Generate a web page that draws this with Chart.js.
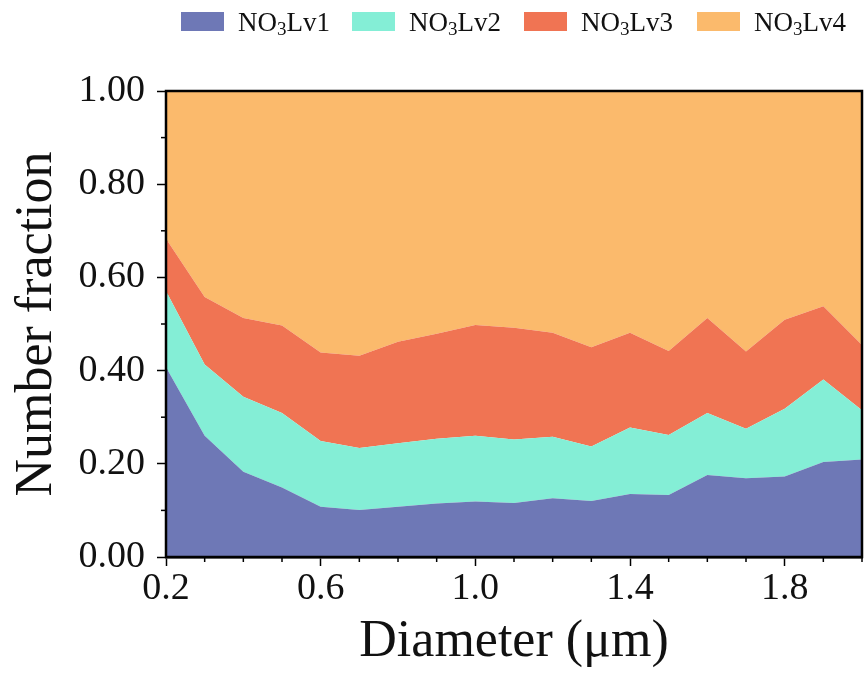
<!DOCTYPE html>
<html>
<head>
<meta charset="utf-8">
<script src="https://cdn.jsdelivr.net/npm/chart.js@4.4.1/dist/chart.umd.min.js"></script>
<style>
  html, body { margin: 0; padding: 0; background: #fff; }
  #wrap { position: relative; width: 864px; height: 674px; }
  #legend { position: absolute; left: 0; top: 0; width: 864px; height: 45px;
            font-family: "Liberation Serif", "Times New Roman", serif; font-size: 27px; color: #111; }
  .item { position: absolute; top: 8px; height: 28px; white-space: nowrap; }
  .item .sw { position: absolute; left: 0; top: 4px; width: 43px; height: 19px; }
  .item .lbl { position: absolute; left: 57px; top: 0; line-height: 28px; }
  .item sub { font-size: 19px; vertical-align: -4px; line-height: 0; }
</style>
</head>
<body>
<div id="wrap">
  <div id="legend"></div>
  <canvas id="chart" width="864" height="674"></canvas>
</div>
<script>
// Diameter bins (µm)
const diameters = [0.2, 0.3, 0.4, 0.5, 0.6, 0.7, 0.8, 0.9, 1.0, 1.1, 1.2, 1.3, 1.4, 1.5, 1.6, 1.7, 1.8, 1.9, 2.0];

// number fraction of each class (stacked to 1)
const lv1 = [0.407, 0.260, 0.183, 0.149, 0.108, 0.101, 0.108, 0.115, 0.119, 0.116, 0.126, 0.120, 0.135, 0.133, 0.176, 0.169, 0.173, 0.204, 0.209];
const lv2 = [0.164, 0.153, 0.161, 0.160, 0.141, 0.133, 0.136, 0.139, 0.141, 0.136, 0.132, 0.117, 0.143, 0.129, 0.133, 0.106, 0.145, 0.177, 0.106];
const lv3 = [0.112, 0.145, 0.169, 0.188, 0.190, 0.198, 0.218, 0.225, 0.238, 0.240, 0.223, 0.213, 0.203, 0.180, 0.204, 0.166, 0.191, 0.157, 0.140];
const lv4 = [0.317, 0.442, 0.487, 0.503, 0.561, 0.568, 0.538, 0.521, 0.502, 0.508, 0.519, 0.550, 0.519, 0.558, 0.487, 0.559, 0.491, 0.462, 0.545];

const seriesNames = ["Lv1", "Lv2", "Lv3", "Lv4"];
const seriesColors = ["#6e78b6", "#84eed6", "#f07453", "#fbba6c"];

// x tick labels shown (others are minor ticks)
const xTickLabels = ["0.2", "0.6", "1.0", "1.4", "1.8"];
const yTickLabels = ["0.00", "0.20", "0.40", "0.60", "0.80", "1.00"];

const serif = "'Liberation Serif', 'Times New Roman', serif";

// legend built in html so the subscript 3 can be a real <sub>
const legendEl = document.getElementById("legend");
const legendX = [181, 352, 524, 697];
seriesNames.forEach((name, i) => {
    const item = document.createElement("div");
    item.className = "item";
    item.style.left = legendX[i] + "px";
    item.innerHTML = '<span class="sw" style="background:' + seriesColors[i] + '"></span>' +
        '<span class="lbl">NO<sub>3</sub>' + name + '</span>';
    legendEl.appendChild(item);
});

function toPoints(values) {
    return values.map((v, i) => ({ x: diameters[i], y: v }));
}

const datasets = [lv1, lv2, lv3, lv4].map((values, i) => ({
    label: "NO3" + seriesNames[i],
    data: toPoints(values),
    backgroundColor: seriesColors[i],
    borderWidth: 0,
    pointRadius: 0,
    fill: i === 0 ? "origin" : "-1",
    tension: 0
}));

// minor ticks + top/right frame
const framePlugin = {
    id: "frame",
    afterDraw(chart) {
        const ctx = chart.ctx;
        const a = chart.chartArea;
        const xs = chart.scales.x;
        const ys = chart.scales.y;
        ctx.save();
        ctx.strokeStyle = "#000";
        ctx.lineWidth = 1.5;
        // minor ticks
        diameters.forEach(d => {
            const k = Math.round(d * 10);
            if ((k - 2) % 4 === 0) return;
            const px = xs.getPixelForValue(d);
            ctx.beginPath();
            ctx.moveTo(px, a.bottom);
            ctx.lineTo(px, a.bottom + 5);
            ctx.stroke();
        });
        for (let k = 1; k < 10; k += 2) {
            const py = ys.getPixelForValue(k / 10);
            ctx.beginPath();
            ctx.moveTo(a.left, py);
            ctx.lineTo(a.left - 5, py);
            ctx.stroke();
        }
        // frame
        ctx.lineWidth = 2.5;
        ctx.strokeRect(a.left, a.top, a.right - a.left, a.bottom - a.top);
        ctx.restore();
    }
};

const chart = new Chart(document.getElementById("chart"), {
    type: "line",
    data: { datasets: datasets },
    options: {
        responsive: false,
        animation: false,
        layout: { padding: { top: 91, right: 2, left: 0, bottom: 0 } },
        plugins: {
            legend: { display: false },
            tooltip: { enabled: false }
        },
        scales: {
            x: {
                type: "linear",
                min: 0.2,
                max: 2.0,
                afterFit: s => { s.height = 117; },
                ticks: {
                    stepSize: 0.1,
                    autoSkip: false,
                    maxRotation: 0,
                    padding: 0,
                    color: "#111",
                    font: { family: serif, size: 38 },
                    callback: v => {
                        const lbl = v.toFixed(1);
                        return xTickLabels.includes(lbl) ? lbl : "";
                    }
                },
                grid: {
                    drawOnChartArea: false,
                    tickLength: 9,
                    tickWidth: c => xTickLabels.includes(Number(c.tick.value).toFixed(1)) ? 1.5 : 0,
                    tickColor: "#000"
                },
                border: { color: "#000", width: 2.5 },
                title: {
                    display: true,
                    text: "Diameter (μm)",
                    color: "#111",
                    font: { family: serif, size: 52 },
                    padding: { top: 0, bottom: 0 }
                }
            },
            y: {
                stacked: true,
                min: 0,
                max: 1,
                afterFit: s => { s.width = 166; },
                ticks: {
                    stepSize: 0.1,
                    autoSkip: false,
                    padding: 12,
                    color: "#111",
                    font: { family: serif, size: 38 },
                    callback: v => {
                        const lbl = v.toFixed(2);
                        return yTickLabels.includes(lbl) ? lbl : "";
                    }
                },
                grid: {
                    drawOnChartArea: false,
                    tickLength: 9,
                    tickWidth: c => yTickLabels.includes(Number(c.tick.value).toFixed(2)) ? 1.5 : 0,
                    tickColor: "#000"
                },
                border: { color: "#000", width: 2.5 },
                title: {
                    display: true,
                    text: "Number fraction",
                    color: "#111",
                    font: { family: serif, size: 52 },
                    padding: { top: 6, bottom: 0 }
                }
            }
        }
    },
    plugins: [framePlugin]
});
</script>
</body>
</html>
